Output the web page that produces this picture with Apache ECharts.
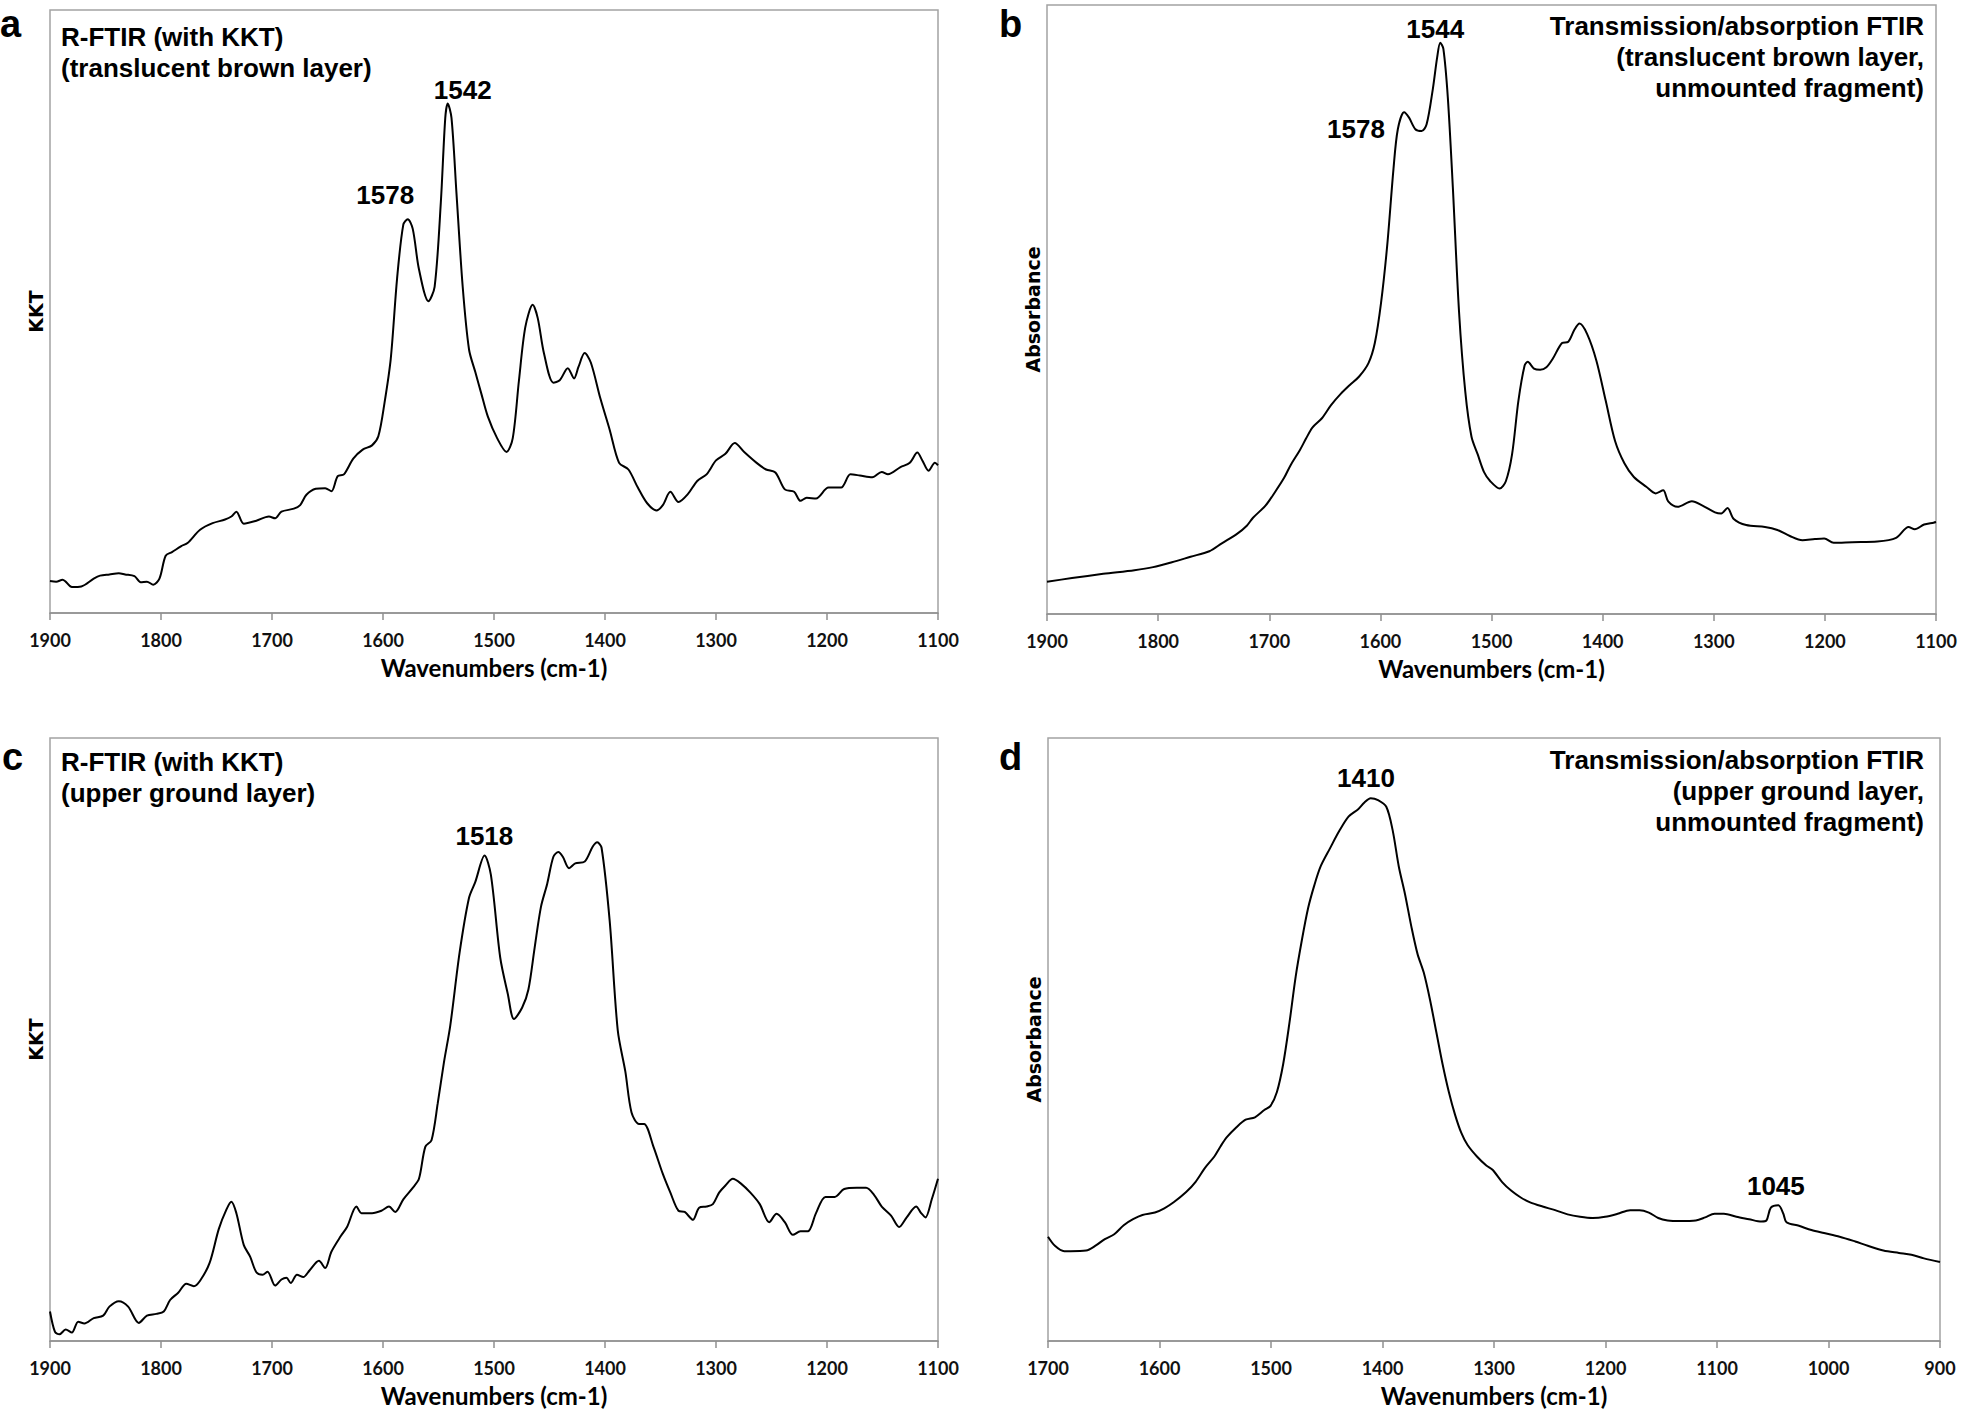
<!DOCTYPE html>
<html>
<head>
<meta charset="utf-8">
<script src="https://cdn.jsdelivr.net/npm/echarts@6/dist/echarts.min.js"></script>
<style>
html,body{margin:0;padding:0;background:#fff;}
#chart{width:1961px;height:1418px;}
</style>
</head>
<body>
<div id="chart"></div>
<script>
// ---- axis ranges (cm-1) ----
const rangeABC = [1100, 1900];
const rangeD = [900, 1700];
const tickStep = 100;

// ---- panel a : R-FTIR (with KKT), translucent brown layer ----
const aWn = [1900,1894.4,1888.7,1885.9,1880.3,1871.8,1860.6,1854.9,1846.5,1838.0,
1832.4,1823.9,1818.3,1812.7,1807.0,1801.4,1795.8,1790.1,1781.7,1776.1,
1764.8,1753.5,1742.3,1736.6,1732.1,1725.4,1714.1,1702.8,1697.2,1691.5,
1680.3,1674.6,1669.0,1660.6,1652.1,1646.5,1640.8,1635.2,1626.8,1618.3,
1609.9,1604.2,1598.6,1593.0,1587.3,1581.7,1577.7,1573.2,1567.6,1559.1,
1553.5,1547.9,1543.9,1541.7,1538.3,1533.8,1528.2,1522.5,1516.9,1511.3,
1505.6,1497.2,1488.7,1483.1,1477.5,1471.8,1465.1,1460.6,1454.9,1446.5,
1440.8,1433.5,1427.9,1423.9,1418.3,1412.7,1404.2,1395.8,1387.3,1378.9,
1370.4,1362.0,1353.5,1347.9,1341.1,1333.8,1325.4,1316.9,1308.5,1300.0,
1291.5,1283.1,1274.6,1263.4,1254.9,1246.5,1238.0,1229.6,1223.9,1218.3,
1209.9,1198.6,1187.3,1178.9,1170.4,1159.2,1150.7,1145.1,1133.8,1125.4,
1118.6,1114.1,1108.5,1102.8,1100];
const aVal = [5.3,5.2,5.5,5.2,4.3,4.4,5.7,6.2,6.4,6.6,
6.4,6.1,5.1,5.2,4.7,5.7,9.5,10.1,11.1,11.6,
13.8,14.9,15.5,16.0,16.8,14.8,15.3,16.0,15.7,16.8,
17.3,17.9,19.6,20.6,20.7,20.2,22.7,23.0,25.6,27.1,
27.8,29.3,34.9,42.2,55.5,64.4,65.3,63.7,57.0,51.7,
54.1,68.1,82.1,84.5,82.1,69.6,54.1,43.7,40.0,36.3,
32.6,29.0,26.7,29.0,38.6,47.4,51.1,48.9,43.0,38.2,
38.6,40.6,38.9,40.8,43.1,41.5,35.6,30.4,24.9,23.8,
20.8,18.2,17.0,17.9,20.1,18.4,19.7,21.9,23.0,25.3,
26.4,28.2,26.7,24.9,23.8,23.3,20.5,20.1,18.6,19.1,
19.0,20.8,20.8,23.0,22.8,22.5,23.4,23.0,24.2,24.9,
26.6,25.3,23.6,24.9,24.5];
const aPeakText = ['1578', '1542'];
const aPeakPos = [[1598, 69.3], [1528.2, 86.8]];

// ---- panel b : Transmission/absorption FTIR, translucent brown layer ----
const bWn = [1900,1877.5,1849.4,1821.3,1804.5,1787.6,1770.8,1753.9,1742.7,1728.7,
1720.2,1714.6,1703.4,1694.9,1686.5,1680.9,1672.5,1666.9,1661.2,1652.8,
1644.4,1635.9,1627.5,1619.1,1610.7,1605.0,1599.4,1593.8,1588.2,1584.3,
1578.6,1574.2,1568.5,1562.9,1558.4,1552.8,1548.9,1546.1,1543.3,1539.3,
1534.8,1529.2,1523.6,1518.0,1512.4,1506.7,1501.1,1492.7,1487.1,1481.5,
1475.8,1470.2,1467.4,1461.8,1456.2,1450.6,1444.9,1436.5,1430.9,1425.3,
1420.8,1414.0,1405.6,1397.2,1388.8,1380.3,1371.9,1360.7,1352.2,1345.5,
1341.0,1332.6,1319.7,1310.1,1298.9,1293.3,1287.6,1282.0,1270.8,1253.9,
1242.7,1231.5,1220.2,1209.0,1200.6,1192.1,1175.3,1152.8,1135.9,1124.7,
1119.1,1110.7,1102.2,1100];
const bVal = [5.3,5.9,6.6,7.2,7.7,8.5,9.4,10.3,11.6,13.2,
14.5,15.8,17.8,20.0,22.4,24.4,26.9,28.8,30.6,32.1,
34.3,36.1,37.6,39.0,41.2,44.5,51.1,60.6,73.1,79.6,
82.4,81.5,79.6,79.3,80.4,86.2,91.4,93.8,92.8,84.8,
70.1,49.6,36.5,29.1,26.2,23.3,21.8,20.6,21.8,26.2,
35.0,40.8,41.4,40.3,40.1,40.5,41.9,44.5,44.7,46.7,
47.7,46.0,41.6,35.0,28.4,24.7,22.5,20.9,19.8,20.3,
18.5,17.6,18.5,17.8,16.7,16.5,17.4,15.6,14.6,14.3,
13.8,12.8,12.1,12.3,12.4,11.7,11.8,11.9,12.5,14.3,
13.9,14.7,15.0,15.1];
const bPeakText = ['1544', '1578'];
const bPeakPos = [[1550.6, 96.0], [1621.9, 79.6]];

// ---- panel c : R-FTIR (with KKT), upper ground layer ----
const cWn = [1900,1895.5,1891.5,1885.9,1880.3,1874.6,1869.0,1860.6,1852.1,1846.5,
1838.0,1829.6,1820.0,1812.7,1804.2,1797.5,1791.8,1784.5,1777.2,1770.4,
1764.8,1756.3,1747.9,1741.1,1736.6,1732.1,1725.4,1719.7,1714.1,1708.5,
1704.0,1697.2,1691.5,1687.0,1683.1,1677.5,1671.8,1666.2,1657.7,1652.1,
1646.5,1638.0,1632.4,1623.9,1619.4,1609.9,1601.4,1594.6,1589.0,1581.7,
1573.2,1567.6,1561.9,1556.3,1550.7,1545.1,1539.4,1531.0,1522.5,1516.9,
1508.5,1502.8,1494.4,1487.6,1482.0,1474.6,1469.0,1463.4,1457.7,1452.1,
1446.5,1442.0,1438.0,1432.4,1426.8,1418.3,1411.0,1407.0,1403.1,1395.8,
1388.5,1381.7,1376.1,1369.3,1364.8,1356.3,1347.9,1341.1,1333.8,1328.2,
1320.8,1315.2,1308.5,1302.8,1297.2,1291.5,1284.8,1277.5,1269.0,1260.6,
1252.1,1245.4,1238.0,1230.7,1223.9,1217.2,1209.9,1201.4,1193.0,1184.5,
1173.2,1164.8,1157.5,1150.7,1142.3,1135.0,1128.2,1119.7,1115.2,1111.3,
1105.6,1100];
const cVal = [4.9,1.5,1.1,1.9,1.4,3.2,2.9,3.8,4.2,5.7,
6.6,5.7,3.0,4.2,4.5,4.9,6.8,8.0,9.5,9.1,
10.0,12.9,18.6,21.8,23.1,21.2,15.9,14.0,11.4,11.0,
11.5,9.2,10.2,10.5,9.6,11.0,10.6,11.7,13.3,12.1,
14.8,17.4,18.9,22.3,21.2,21.2,21.6,22.3,21.4,23.5,
25.4,26.9,32.2,33.3,39.4,46.2,52.3,64.4,73.5,76.1,
80.5,77.3,63.6,57.6,53.4,55.3,58.3,65.2,72.0,75.8,
80.3,81.1,80.3,78.4,79.2,79.5,82.0,82.7,81.8,69.7,
51.5,44.7,37.9,36.0,36.0,32.2,27.7,24.6,21.6,21.4,
20.1,22.1,22.3,22.7,24.6,25.8,26.9,26.1,24.6,22.7,
19.7,21.1,19.7,17.6,18.2,18.2,21.2,23.9,23.9,25.2,
25.4,25.4,24.2,22.3,20.8,18.9,20.5,22.3,21.2,20.5,
23.5,26.9];
const cPeakText = ['1518'];
const cPeakPos = [[1508.7, 83.8]];

// ---- panel d : Transmission/absorption FTIR, upper ground layer ----
const dWn = [1700,1693.8,1685.4,1679.8,1665.8,1657.4,1649.0,1640.6,1632.1,1623.7,
1615.3,1604.1,1595.7,1587.3,1576.1,1567.6,1559.2,1550.8,1545.2,1539.6,
1531.2,1522.8,1514.4,1506.0,1500.4,1494.7,1489.1,1483.5,1477.9,1472.3,
1466.7,1461.1,1455.5,1447.1,1438.7,1430.3,1421.8,1416.2,1410.6,1404.0,
1396.6,1391.0,1385.4,1379.8,1374.2,1368.6,1363.0,1357.4,1351.7,1346.1,
1340.5,1334.9,1329.3,1323.7,1315.3,1306.9,1301.3,1292.9,1284.4,1276.0,
1267.6,1256.4,1245.2,1234.0,1222.8,1211.5,1200.3,1189.1,1177.9,1169.5,
1161.1,1152.7,1144.3,1133.0,1119.0,1110.6,1102.2,1093.8,1082.6,1071.3,
1060.1,1055.6,1051.7,1045.0,1040.5,1037.7,1026.5,1015.3,1004.0,990.0,
976.0,964.8,950.8,936.8,925.6,914.4,900];
const dVal = [17.3,15.8,14.9,14.9,15.0,15.8,16.9,17.7,19.2,20.2,
20.9,21.3,22.0,23.0,24.7,26.4,28.7,30.6,32.3,33.8,
35.4,36.7,37.1,38.3,39.0,41.3,45.9,52.7,60.4,66.5,
71.8,75.6,78.7,81.7,84.6,87.0,88.2,89.3,90.0,89.7,
88.6,84.8,78.7,74.1,68.8,64.2,61.1,56.6,51.2,45.9,
41.3,37.5,34.5,32.5,30.6,29.1,28.4,26.4,24.9,23.8,
23.0,22.3,21.7,21.0,20.6,20.4,20.6,21.1,21.7,21.7,
21.3,20.4,20.0,19.9,20.0,20.5,21.1,21.1,20.6,20.2,
19.8,20.0,22.1,22.5,21.1,19.7,19.1,18.4,17.9,17.3,
16.5,15.8,15.0,14.6,14.3,13.7,13.1];
const dPeakText = ['1410', '1045'];
const dPeakPos = [[1414.8, 93.3], [1047.2, 25.7]];

// ---- texts ----
const panelLetters = ['a', 'b', 'c', 'd'];
const panelTitles = [
  'R-FTIR (with KKT)\n(translucent brown layer)',
  'Transmission/absorption FTIR\n(translucent brown layer,\nunmounted fragment)',
  'R-FTIR (with KKT)\n(upper ground layer)',
  'Transmission/absorption FTIR\n(upper ground layer,\nunmounted fragment)'
];
const yNames = ['KKT', 'Absorbance', 'KKT', 'Absorbance'];
const xName = 'Wavenumbers (cm-1)';

// ---- layout (px) ----
const grids = [
  {left: 50, top: 10, width: 888, height: 603},
  {left: 1047, top: 5, width: 889, height: 609},
  {left: 50, top: 738, width: 888, height: 603},
  {left: 1048, top: 738, width: 892, height: 603}
];
const letterPos = [[0, 24], [999, 24], [2, 757], [999, 757]];
const titlePos = [[61, 21, 'left'], [1924, 10, 'right'], [61, 746, 'left'], [1924, 744, 'right']];

const panels = [
  {wn: aWn, val: aVal, range: rangeABC, peaks: aPeakText, peakPos: aPeakPos},
  {wn: bWn, val: bVal, range: rangeABC, peaks: bPeakText, peakPos: bPeakPos},
  {wn: cWn, val: cVal, range: rangeABC, peaks: cPeakText, peakPos: cPeakPos},
  {wn: dWn, val: dVal, range: rangeD, peaks: dPeakText, peakPos: dPeakPos}
];

const boldSans = '"Liberation Sans", Arial, sans-serif';
const chart = echarts.init(document.getElementById('chart'), null, {renderer: 'svg'});

const option = {
  animation: false,
  backgroundColor: '#ffffff',
  grid: grids.map(g => Object.assign({}, g, {
    show: true, borderColor: '#a3a3a3', borderWidth: 1.5, backgroundColor: 'transparent', containLabel: false
  })),
  xAxis: panels.map((p, i) => ({
    type: 'value', gridIndex: i, inverse: true,
    min: p.range[0], max: p.range[1], interval: tickStep,
    name: xName, nameLocation: 'middle', nameGap: 42,
    nameTextStyle: {fontFamily: 'Lato', fontWeight: 'bold', fontSize: 24, color: '#000'},
    axisLine: {show: true, onZero: false, lineStyle: {color: '#8f8f8f', width: 1.5}},
    axisTick: {show: true, inside: false, length: 7, lineStyle: {color: '#8f8f8f', width: 1.5}},
    axisLabel: {show: true, margin: 18, fontFamily: 'Lato', fontWeight: 'bold', fontSize: 18, color: '#111',
                showMinLabel: true, showMaxLabel: true, formatter: v => String(v)},
    splitLine: {show: false}
  })),
  yAxis: panels.map((p, i) => ({
    type: 'value', gridIndex: i, min: 0, max: 100,
    name: yNames[i], nameLocation: 'middle', nameRotate: 90, nameGap: 5,
    nameTextStyle: {fontFamily: '"DejaVu Sans"', fontWeight: 'bold', fontSize: 19, color: '#000'},
    axisLine: {show: false}, axisTick: {show: false}, axisLabel: {show: false}, splitLine: {show: false}
  })),
  series: panels.map((p, i) => ({
    type: 'line', xAxisIndex: i, yAxisIndex: i,
    data: p.wn.map((w, k) => [w, p.val[k]]),
    showSymbol: false, smooth: 0.3,
    lineStyle: {color: '#000', width: 2},
    silent: true,
    markPoint: {
      symbol: 'circle', symbolSize: 1, silent: true,
      itemStyle: {color: 'rgba(0,0,0,0)'},
      label: {show: true, position: 'inside', formatter: '{b}',
              fontFamily: boldSans, fontWeight: 'bold', fontSize: 26, color: '#000'},
      data: p.peaks.map((t, j) => ({name: t, coord: p.peakPos[j]}))
    }
  })),
  graphic: [].concat(
    panelLetters.map((t, i) => ({
      type: 'text', x: letterPos[i][0], y: letterPos[i][1], silent: true,
      style: {text: t, font: 'bold 38px ' + boldSans, fill: '#000', textAlign: 'left', textVerticalAlign: 'middle'}
    })),
    panelTitles.map((t, i) => ({
      type: 'text', x: titlePos[i][0], y: titlePos[i][1], silent: true,
      style: {text: t, font: 'bold 26px ' + boldSans, fill: '#000', lineHeight: 31,
              textAlign: titlePos[i][2], textVerticalAlign: 'top'}
    }))
  )
};
chart.setOption(option);
</script>
</body>
</html>
